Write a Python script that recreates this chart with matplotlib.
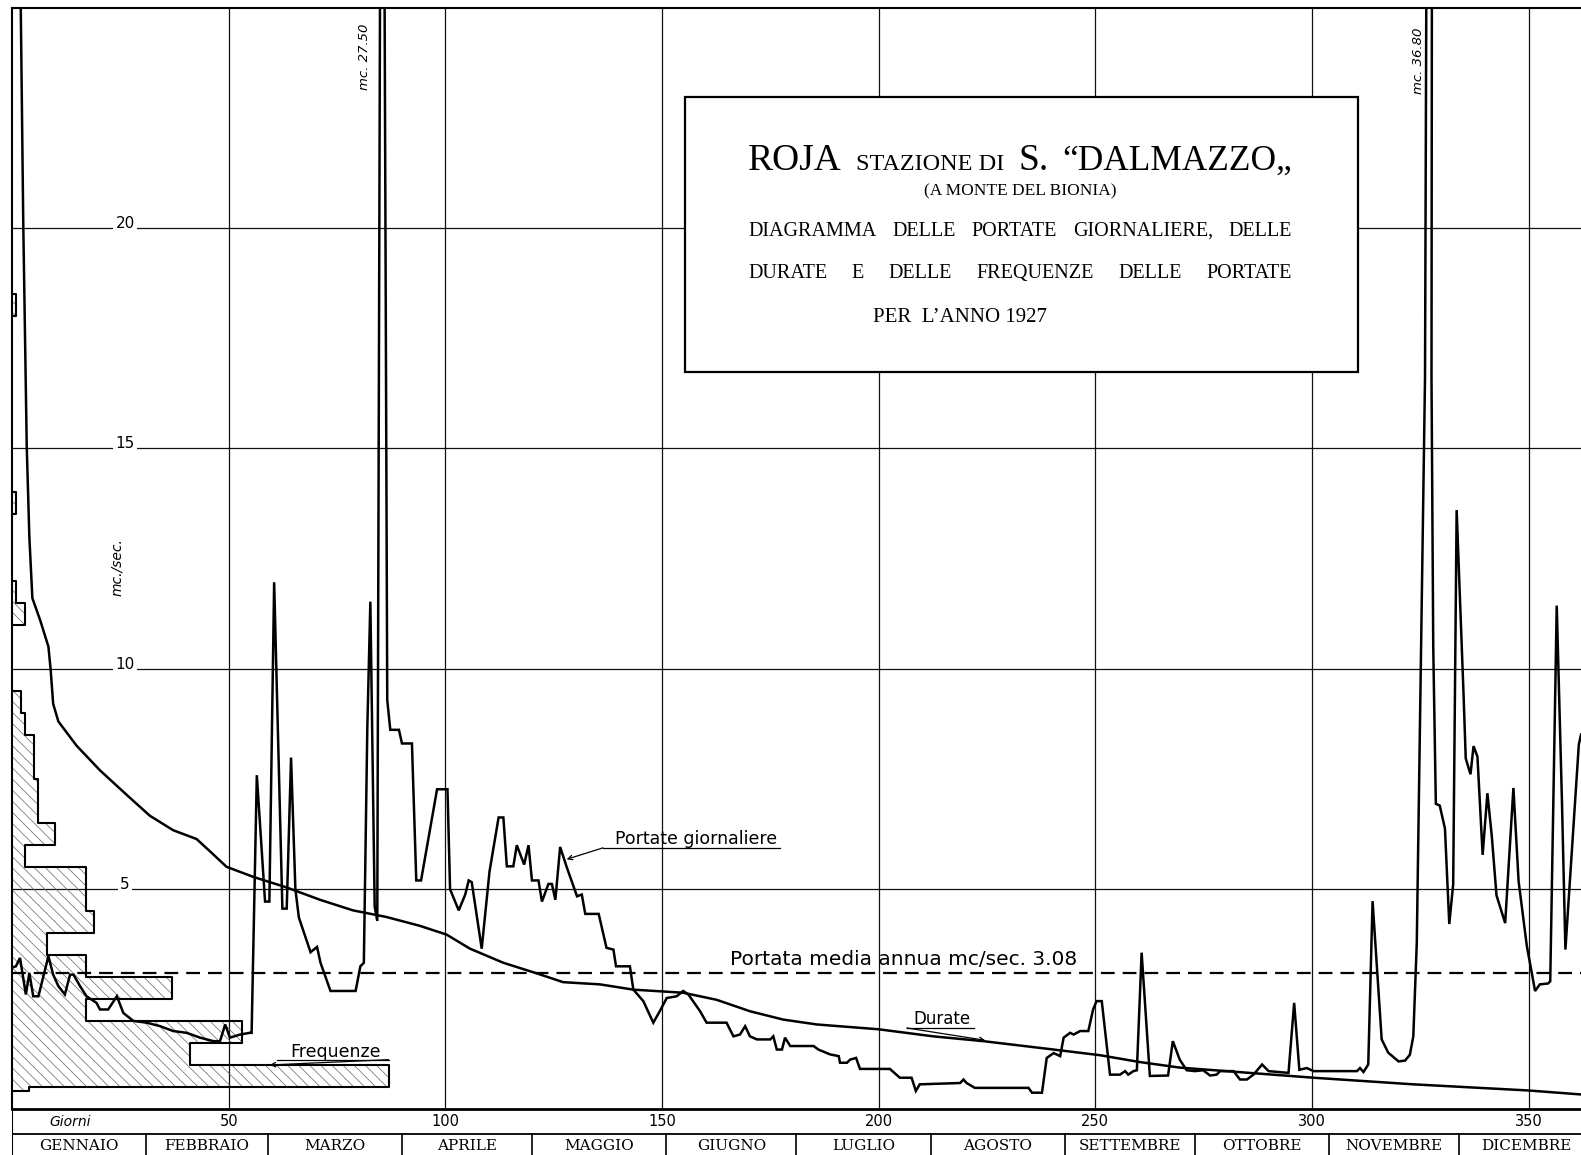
import numpy as np
import matplotlib.pyplot as plt
from matplotlib.patches import Rectangle

plt.rcParams['font.family'] = ['DejaVu Sans']
plt.rcParams['hatch.linewidth'] = 0.5

# portate giornaliere: vertici della spezzata (giorno, mc/sec)
portate_giorni = [
    0, 0.9, 1.85, 3.2, 4.0, 4.9, 6.1, 8.4, 9.5, 10.7,
    12.2, 13.4, 14.2, 15.7, 17.2, 19.5, 20.3, 22.2, 24.2, 25.7,
    28.0, 31.1, 34.2, 37.2, 40.3, 43.4, 46.5, 48.0, 49.2, 50.3,
    52.6, 54.9, 55.3, 56.5, 58.4, 59.4, 60.5, 62.4, 63.4, 64.4,
    65.4, 66.2, 68.9, 70.4, 71.2, 73.5, 79.3, 80.4, 81.2, 82.0,
    82.7, 83.7, 84.3, 85.0, 85.9, 86.6, 87.3, 89.3, 90.0, 92.3,
    93.3, 94.4, 98.1, 100.5, 101.1, 103.1, 104.6, 105.4, 106.1, 108.4,
    110.2, 112.3, 113.4, 114.2, 115.7, 116.5, 118.2, 119.2, 120.0, 121.5,
    122.3, 123.8, 124.6, 125.4, 126.5, 128.1, 130.4, 131.5, 132.3, 135.4,
    137.2, 138.8, 139.4, 142.6, 143.4, 145.7, 148.0, 149.5, 151.1, 153.4,
    154.9, 156.1, 158.8, 160.3, 164.9, 166.5, 168.0, 169.2, 170.3, 171.9,
    175.0, 175.7, 176.5, 177.7, 178.4, 179.6, 185.0, 186.1, 188.8, 190.8,
    191.1, 192.7, 193.4, 194.8, 195.7, 202.6, 204.9, 207.6, 208.6, 209.5,
    218.8, 219.6, 220.3, 222.2, 234.6, 235.4, 237.7, 238.8, 240.4, 241.9,
    242.7, 244.2, 245.0, 246.5, 248.4, 249.5, 250.3, 251.5, 253.4, 255.7,
    256.9, 257.6, 258.8, 259.6, 260.7, 262.6, 266.8, 267.9, 269.5, 271.1,
    273.0, 274.9, 276.5, 278.0, 278.8, 281.9, 283.4, 285.0, 286.5, 288.5,
    290.0, 294.6, 295.9, 297.1, 298.8, 300.4, 310.4, 311.1, 311.9, 313.0,
    314.0, 316.1, 317.6, 320.0, 321.5, 322.6, 323.4, 324.2, 326.1, 326.8,
    327.8, 327.6, 328.0, 328.6, 329.5, 330.7, 331.7, 332.6, 333.4, 334.2,
    335.0, 335.5, 336.6, 337.3, 338.2, 339.4, 340.5, 341.5, 342.6, 344.6,
    346.5, 347.7, 349.6, 351.5, 352.6, 354.5, 355.0, 356.5, 357.7, 358.5,
    361.6, 362.1,
]
portate_mc = [
    3.21, 3.24, 3.43, 2.60, 3.09, 2.56, 2.56, 3.47, 3.05, 2.79,
    2.60, 3.05, 3.05, 2.79, 2.56, 2.41, 2.26, 2.26, 2.56, 2.18,
    2.00, 1.96, 1.88, 1.77, 1.73, 1.62, 1.54, 1.54, 1.92, 1.62,
    1.69, 1.73, 1.73, 7.58, 4.71, 4.71, 11.96, 4.55, 4.55, 7.98,
    4.99, 4.35, 3.56, 3.68, 3.32, 2.68, 2.68, 3.24, 3.32, 8.65,
    11.52, 4.60, 4.27, 27.5, 27.5, 9.29, 8.61, 8.61, 8.30, 8.30,
    5.19, 5.19, 7.26, 7.26, 4.99, 4.51, 4.87, 5.19, 5.15, 3.64,
    5.39, 6.62, 6.62, 5.51, 5.51, 5.99, 5.55, 5.99, 5.19, 5.19,
    4.71, 5.11, 5.11, 4.75, 5.95, 5.47, 4.83, 4.87, 4.43, 4.43,
    3.66, 3.62, 3.24, 3.24, 2.71, 2.45, 1.96, 2.22, 2.52, 2.56,
    2.68, 2.60, 2.22, 1.96, 1.96, 1.65, 1.69, 1.88, 1.65, 1.58,
    1.58, 1.65, 1.35, 1.35, 1.62, 1.43, 1.43, 1.35, 1.24, 1.20,
    1.05, 1.05, 1.12, 1.16, 0.91, 0.91, 0.71, 0.71, 0.41, 0.56,
    0.59, 0.67, 0.59, 0.48, 0.48, 0.37, 0.37, 1.16, 1.27, 1.20,
    1.62, 1.73, 1.69, 1.77, 1.77, 2.26, 2.45, 2.45, 0.78, 0.78,
    0.86, 0.78, 0.86, 0.88, 3.55, 0.75, 0.76, 1.54, 1.12, 0.88,
    0.86, 0.88, 0.76, 0.78, 0.86, 0.86, 0.67, 0.67, 0.78, 1.01,
    0.86, 0.82, 2.41, 0.89, 0.93, 0.86, 0.86, 0.93, 0.84, 1.01,
    4.72, 1.58, 1.28, 1.08, 1.10, 1.23, 1.65, 3.77, 16.6, 36.8,
    36.8, 16.6, 10.5, 6.93, 6.89, 6.37, 4.20, 5.10, 13.6, 11.5,
    9.40, 7.96, 7.60, 8.24, 8.00, 5.77, 7.17, 6.21, 4.85, 4.22,
    7.29, 5.17, 3.70, 2.68, 2.83, 2.85, 2.90, 11.43, 7.00, 3.62,
    8.28, 8.50,
]

# curva delle durate
durate_giorni = [2.0, 2.6, 3.4, 4.0, 4.7, 6.5, 8.4, 8.9, 9.5, 10.7,
                 14.9, 20.3, 26.5, 31.8, 37.2, 42.6, 45.7, 49.5, 55.7, 63.4,
                 71.1, 78.7, 86.4, 94.1, 100.3, 105.7, 113.4, 121.1, 127.2, 135.7,
                 143.4, 154.9, 162.6, 170.3, 178.0, 185.7, 200.0, 212.6, 224.2, 240.4,
                 251.2, 260.0, 269.5, 300.4, 323.4, 350.1, 362.1]
durate_mc = [25.2, 20.1, 15.05, 13.0, 11.6, 11.1, 10.5, 10.0, 9.2, 8.8,
             8.25, 7.69, 7.13, 6.66, 6.33, 6.13, 5.85, 5.50, 5.27, 5.03,
             4.75, 4.51, 4.36, 4.16, 3.96, 3.64, 3.32, 3.08, 2.88, 2.83,
             2.71, 2.64, 2.48, 2.22, 2.03, 1.92, 1.81, 1.65, 1.54, 1.35,
             1.22, 1.07, 0.94, 0.71, 0.56, 0.42, 0.33]

# frequenze: classi di portata e numero di giorni
freq_da = [0.4, 0.5, 1.0, 1.5, 2.0, 2.5, 3.0, 3.5, 4.0, 4.5, 5.0, 5.5,
           6.0, 6.5, 7.0, 7.5, 8.0, 8.5, 9.0, 11.0, 11.5, 13.5, 18.0]
freq_a = [0.5, 1.0, 1.5, 2.0, 2.5, 3.0, 3.5, 4.0, 4.5, 5.0, 5.5, 6.0,
          6.5, 7.0, 7.5, 8.0, 8.5, 9.0, 9.5, 11.5, 12.0, 14.0, 18.5]
freq_giorni = [4, 87, 41, 53, 17, 37, 17, 8, 19, 17, 17, 3,
               10, 6, 6, 5, 5, 3, 2, 3, 1, 1, 1]

media_annua = 3.08

mesi = ["GENNAIO", "FEBBRAIO", "MARZO", "APRILE", "MAGGIO", "GIUGNO",
        "LUGLIO", "AGOSTO", "SETTEMBRE", "OTTOBRE", "NOVEMBRE", "DICEMBRE"]
fine_mese = [0, 31, 59, 90, 120, 151, 181, 212, 243, 273, 304, 334, 365]
giorni_tick = [50, 100, 150, 200, 250, 300, 350]
portata_tick = [5, 10, 15, 20]

W, H = 1581, 1155
XMAX = 362.1
SERIF = ['Liberation Serif', 'DejaVu Serif']

fig = plt.figure(figsize=(W / 100, H / 100), dpi=100)
ax = fig.add_axes([12 / W, 46 / H, 1569 / W, 1101 / H])
ax.set_xlim(0, XMAX)
ax.set_ylim(0, 25.0)
ax.set_xticks([])
ax.set_yticks([])
ax.spines['right'].set_visible(False)
ax.spines['left'].set_linewidth(1.5)
ax.spines['top'].set_linewidth(1.5)
ax.spines['bottom'].set_linewidth(2.0)

# reticolo
for g in giorni_tick:
    ax.axvline(g, color='#111111', lw=0.9, zorder=1)
for p in portata_tick:
    ax.axhline(p, color='#111111', lw=0.9, zorder=1)
    ax.text(26.1, p, str(p), ha='center', va='baseline', fontsize=11,
            zorder=2, bbox=dict(facecolor='white', edgecolor='none', pad=1.5))

ax.text(24.2, 12.3, "mc./sec.", rotation=90, style='italic', ha='center',
        va='center', fontsize=10)

# istogramma delle frequenze
for lo, hi, n in zip(freq_da, freq_a, freq_giorni):
    ax.barh(lo, n, height=hi - lo, left=0, align='edge', facecolor='none',
            edgecolor='#666666', hatch='\\\\\\', lw=0, zorder=2)

gruppo = []
gruppi = []
for lo, hi, n in zip(freq_da, freq_a, freq_giorni):
    if gruppo and abs(gruppo[-1][1] - lo) > 1e-9:
        gruppi.append(gruppo)
        gruppo = []
    gruppo.append((lo, hi, n))
gruppi.append(gruppo)
for gr in gruppi:
    xs = [0]
    ys = [gr[0][0]]
    for lo, hi, n in gr:
        xs += [n, n]
        ys += [lo, hi]
    xs.append(0)
    ys.append(gr[-1][1])
    ax.plot(xs, ys, color='k', lw=1.5, zorder=3)

# media annua
ax.axhline(media_annua, color='k', lw=1.6, dashes=(6.2, 3.6), zorder=3)
ax.text(165.7, 3.28, "Portata media annua mc/sec. 3.08", fontsize=14.5,
        ha='left', va='baseline', zorder=4)

# curve
ax.plot(durate_giorni, durate_mc, color='k', lw=1.8, zorder=4)
ax.plot(portate_giorni, portate_mc, color='k', lw=1.8, zorder=4,
        solid_joinstyle='miter')


# diciture con sottolineatura e richiamo
def dicitura(testo, x_txt, y_txt, x0, x1, y_line, xy_freccia, size):
    ax.text(x_txt, y_txt, testo, fontsize=size, ha='left', va='baseline', zorder=6)
    ax.plot([x0, x1], [y_line, y_line], color='k', lw=0.9, zorder=6)
    ax.annotate('', xy=xy_freccia, xytext=(x0, y_line),
                arrowprops=dict(arrowstyle='->', lw=0.9, color='k',
                                shrinkA=0, shrinkB=0, mutation_scale=8),
                zorder=6)


dicitura("Portate giornaliere", 139.2, 6.02, 136.4, 177.2, 5.93, (128.0, 5.67), 12.5)
dicitura("Durate", 208.0, 1.92, 206.5, 221.9, 1.84, (224.6, 1.56), 12)
dicitura("Frequenze", 64.2, 1.19, 86.9, 61.1, 1.12, (59.5, 1.0), 12.5)

ax.text(81.4, 23.9, "mc. 27.50", rotation=90, style='italic', ha='center',
        va='center', fontsize=9.5)
ax.text(324.6, 23.8, "mc. 36.80", rotation=90, style='italic', ha='center',
        va='center', fontsize=9.5)

# cartiglio del titolo
ax.add_patch(Rectangle((155.4, 16.73), 155.2, 6.25, facecolor='white',
                       edgecolor='k', lw=1.6, zorder=7))

renderer = fig.canvas.get_renderer()


def riga_giustificata(parole, sizes, x0, x1, y):
    testi = [ax.text(x0, y, p, fontsize=s, family=SERIF, zorder=8)
             for p, s in zip(parole, sizes)]
    larg = [t.get_window_extent(renderer).width for t in testi]
    p0 = ax.transData.transform((x0, y))[0]
    p1 = ax.transData.transform((x1, y))[0]
    gap = (p1 - p0 - sum(larg)) / (len(testi) - 1)
    inv = ax.transData.inverted()
    pos = p0
    for t, w in zip(testi, larg):
        t.set_x(inv.transform((pos, 0))[0])
        pos += w + gap


riga_giustificata(["ROJA", "STAZIONE DI", "S.", "“DALMAZZO„"],
                  [27, 17.5, 27, 25.5], 169.9, 295.4, 21.33)
ax.text(232.6, 20.74, "(A MONTE DEL BIONIA)", fontsize=12.5, family=SERIF,
        ha='center', zorder=8)
riga_giustificata(["DIAGRAMMA", "DELLE", "PORTATE", "GIORNALIERE,", "DELLE"],
                  [14.5] * 5, 169.9, 295.4, 19.83)
riga_giustificata(["DURATE", "E", "DELLE", "FREQUENZE", "DELLE", "PORTATE"],
                  [14.5] * 6, 169.9, 295.4, 18.86)
ax.text(198.8, 17.87, "PER  L’ANNO 1927", fontsize=15, family=SERIF, zorder=8)

# fasce inferiori: giorni e mesi
axb = fig.add_axes([12 / W, 0, 1569 / W, 46 / H])
axb.set_xlim(0, XMAX)
axb.set_ylim(0, 46)
axb.axis('off')
axb.axhline(21, color='k', lw=1.3)
axb.axvline(0, color='k', lw=1.5)
axb.text(13.5, 33, "Giorni", style='italic', ha='center', va='center', fontsize=10)
for g in giorni_tick:
    axb.text(g, 33, str(g), ha='center', va='center', fontsize=10.5)
for i, m in enumerate(mesi):
    a, b = fine_mese[i], fine_mese[i + 1]
    if i > 0:
        axb.plot([a, a], [0, 21], color='k', lw=1.2)
    axb.text((a + b) / 2, 9, m, ha='center', va='center', fontsize=11,
             family=['DejaVu Serif'])

fig.savefig('out.png', dpi=100)
